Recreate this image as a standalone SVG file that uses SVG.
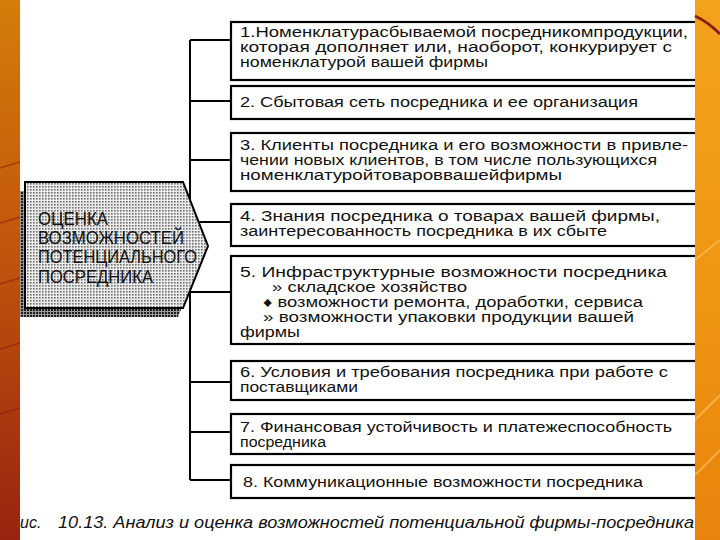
<svg xmlns="http://www.w3.org/2000/svg" width="720" height="540" viewBox="0 0 720 540">
<defs>
<linearGradient id="gl" x1="0" y1="0" x2="0" y2="1">
<stop offset="0" stop-color="#d57d0a"/>
<stop offset="0.45" stop-color="#c2560c"/>
<stop offset="1" stop-color="#962410"/>
</linearGradient>
<linearGradient id="gr" x1="0" y1="0" x2="0" y2="1">
<stop offset="0" stop-color="#f3a21e"/>
<stop offset="0.5" stop-color="#f09614"/>
<stop offset="1" stop-color="#e8840c"/>
</linearGradient>
<pattern id="dots" width="3" height="3" patternUnits="userSpaceOnUse">
<rect width="3" height="3" fill="#ececec"/>
<rect width="1.6" height="1.6" fill="#6e6e6e"/>
</pattern>
<pattern id="dark" width="3" height="3" patternUnits="userSpaceOnUse">
<rect width="3" height="3" fill="#9a9a9a"/>
<rect width="2" height="2" fill="#1e1e1e"/>
</pattern>
<style>
.box{fill:#fff;stroke:#000;stroke-width:2.2}
.t{font-family:"Liberation Sans",Arial,sans-serif;font-size:14px;fill:#111}
.h{font-family:"Liberation Sans",Arial,sans-serif;font-size:18px;fill:#111}
.c{font-family:"Liberation Sans",Arial,sans-serif;font-size:16px;font-style:italic;fill:#111}
.ln{fill:none;stroke:#000;stroke-width:2}
</style>
</defs>
<rect width="720" height="540" fill="#fff"/>

<g id="connectors">
<path class="ln" d="M190,40 V480"/>
<path class="ln" d="M190,40 H232 M190,101 H232 M190,160 H232 M190,222 H232 M190,292 H232 M190,382 H232 M190,432 H232 M190,480 H232"/>
</g>

<g id="root">
<polygon points="20,191 178,191 203,255 178,317 20,317" fill="url(#dark)"/>
<polygon points="25,182 183,182 208,246 183,308 25,308" fill="url(#dots)" stroke="#000" stroke-width="2"/>
<text class="h" x="38" y="225" textLength="70" lengthAdjust="spacingAndGlyphs">ОЦЕНКА</text>
<text class="h" x="38" y="244" textLength="146" lengthAdjust="spacingAndGlyphs">ВОЗМОЖНОСТЕЙ</text>
<text class="h" x="38" y="263" textLength="159" lengthAdjust="spacingAndGlyphs">ПОТЕНЦИАЛЬНОГО</text>
<text class="h" x="38" y="283" textLength="115" lengthAdjust="spacingAndGlyphs">ПОСРЕДНИКА</text>
</g>

<g id="n1">
<rect class="box" x="231" y="22" width="480" height="58"/>
<text class="t" x="240" y="37" textLength="448" lengthAdjust="spacingAndGlyphs">1.Номенклатурасбываемой посредникомпродукции,</text>
<text class="t" x="240" y="52" textLength="432" lengthAdjust="spacingAndGlyphs">которая дополняет или, наоборот, конкурирует с</text>
<text class="t" x="240" y="67" textLength="248" lengthAdjust="spacingAndGlyphs">номенклатурой вашей фирмы</text>
</g>
<g id="n2">
<rect class="box" x="231" y="86" width="480" height="33"/>
<text class="t" x="240" y="107" textLength="398" lengthAdjust="spacingAndGlyphs">2. Сбытовая сеть посредника и ее организация</text>
</g>
<g id="n3">
<rect class="box" x="231" y="133" width="480" height="58"/>
<text class="t" x="240" y="150" textLength="448" lengthAdjust="spacingAndGlyphs">3. Клиенты посредника и его возможности в привле-</text>
<text class="t" x="240" y="165" textLength="417" lengthAdjust="spacingAndGlyphs">чении новых клиентов, в том числе пользующихся</text>
<text class="t" x="240" y="180" textLength="322" lengthAdjust="spacingAndGlyphs">номенклатуройтовароввашейфирмы</text>
</g>
<g id="n4">
<rect class="box" x="231" y="204" width="480" height="42"/>
<text class="t" x="240" y="221" textLength="420" lengthAdjust="spacingAndGlyphs">4. Знания посредника о товарах вашей фирмы,</text>
<text class="t" x="240" y="236" textLength="367" lengthAdjust="spacingAndGlyphs">заинтересованность посредника в их сбыте</text>
</g>
<g id="n5">
<rect class="box" x="231" y="256" width="480" height="88"/>
<text class="t" x="240" y="277" textLength="427" lengthAdjust="spacingAndGlyphs">5. Инфраструктурные возможности посредника</text>
<text class="t" x="272" y="292" textLength="195" lengthAdjust="spacingAndGlyphs">» складское хозяйство</text>
<text class="t" x="263" y="307" textLength="380" lengthAdjust="spacingAndGlyphs">♦ возможности ремонта, доработки, сервиса</text>
<text class="t" x="263" y="322" textLength="371" lengthAdjust="spacingAndGlyphs">» возможности упаковки продукции вашей</text>
<text class="t" x="240" y="337" textLength="60" lengthAdjust="spacingAndGlyphs">фирмы</text>
</g>
<g id="n6">
<rect class="box" x="231" y="361" width="480" height="39"/>
<text class="t" x="240" y="377" textLength="428" lengthAdjust="spacingAndGlyphs">6. Условия и требования посредника при работе с</text>
<text class="t" x="240" y="392" textLength="118" lengthAdjust="spacingAndGlyphs">поставщиками</text>
</g>
<g id="n7">
<rect class="box" x="231" y="414" width="480" height="40"/>
<text class="t" x="240" y="432" textLength="432" lengthAdjust="spacingAndGlyphs">7. Финансовая устойчивость и платежеспособность</text>
<text class="t" x="240" y="447" textLength="86" lengthAdjust="spacingAndGlyphs">посредника</text>
</g>
<g id="n8">
<rect class="box" x="231" y="465" width="480" height="33"/>
<text class="t" x="243" y="487" textLength="400" lengthAdjust="spacingAndGlyphs">8. Коммуникационные возможности посредника</text>
</g>

<text class="c" x="20" y="528">ис.</text>
<text class="c" x="58" y="528" textLength="636" lengthAdjust="spacingAndGlyphs">10.13. Анализ и оценка возможностей потенциальной фирмы-посредника</text>

<g id="strips">
<rect x="0" y="0" width="20" height="540" fill="url(#gl)"/>
<g stroke="#8a1a0a" stroke-width="1.5" opacity="0.55">
<path d="M0,168 L20,162"/><path d="M0,223 L20,217"/><path d="M0,284 L20,278"/><path d="M0,349 L20,343"/><path d="M0,414 L20,408"/>
</g>
<rect x="695" y="0" width="25" height="540" fill="url(#gr)"/>
<g stroke="#ffd27a" stroke-width="2" opacity="0.5" fill="none">
<path d="M695,260 L720,240"/><path d="M695,420 L720,395"/><path d="M695,475 L720,450"/>
</g>
<path d="M695,16 Q708,22 720,34" stroke="#8c1d10" stroke-width="3" fill="none"/>
</g>
</svg>
